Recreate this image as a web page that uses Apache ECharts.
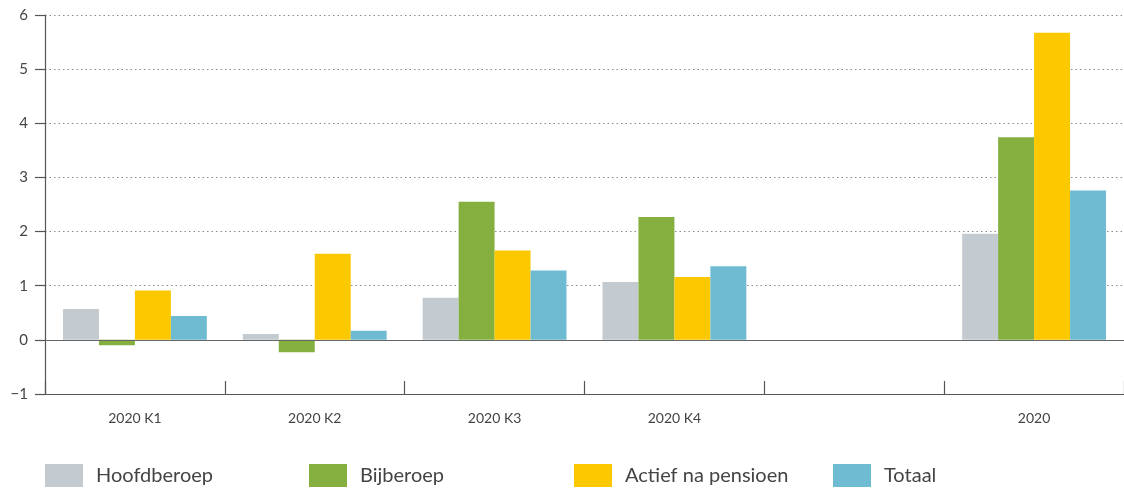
<!DOCTYPE html>
<html>
<head>
<meta charset="utf-8">
<script src="https://cdn.jsdelivr.net/npm/echarts@6/dist/echarts.min.js"></script>
<style>
  html, body { margin: 0; padding: 0; background: #fff; }
  #chart { width: 1124px; height: 489px; }
</style>
</head>
<body>
<div id="chart"></div>
<script>
const categories = ['2020 K1', '2020 K2', '2020 K3', '2020 K4', '', '2020'];
const hoofdberoep = [0.57, 0.11, 0.78, 1.07, null, 1.96];
const bijberoep = [-0.10, -0.23, 2.55, 2.27, null, 3.74];
const actiefNaPensioen = [0.91, 1.59, 1.65, 1.16, null, 5.67];
const totaal = [0.44, 0.17, 1.28, 1.36, null, 2.76];

const seriesNames = ['Hoofdberoep', 'Bijberoep', 'Actief na pensioen', 'Totaal'];
const seriesData = [hoofdberoep, bijberoep, actiefNaPensioen, totaal];
const colors = ['#c3cbd1', '#85b040', '#fcc800', '#6fbcd2'];
const legendLeft = [45, 309, 574, 833];

const chart = echarts.init(document.getElementById('chart'));

const option = {
  animation: false,
  color: colors,
  textStyle: { fontFamily: 'Lato, "Open Sans", sans-serif' },
  grid: { left: 45, width: 1083, top: 15, bottom: 95 },
  legend: seriesNames.map((name, i) => ({
    data: [name],
    left: legendLeft[i],
    top: 464,
    padding: 0,
    icon: 'rect',
    itemWidth: 38,
    itemHeight: 23,
    itemGap: 0,
    textStyle: { fontSize: 20, color: '#444', padding: [0, 0, 0, 8] },
  })),
  xAxis: {
    type: 'category',
    data: categories,
    axisLine: { onZero: false, lineStyle: { color: '#555', width: 1.2 } },
    axisTick: { show: true, inside: true, length: 13, interval: 0, lineStyle: { color: '#555', width: 1.2 } },
    axisLabel: { color: '#444', fontSize: 14, margin: 17, interval: 0 },
    splitLine: { show: false },
  },
  yAxis: {
    type: 'value',
    min: -1,
    max: 6,
    interval: 1,
    axisLine: { show: true, lineStyle: { color: '#555', width: 1.2 } },
    axisTick: { show: true, length: 10, lineStyle: { color: '#555', width: 1.2 } },
    axisLabel: {
      color: '#444',
      fontSize: 15,
      margin: 17,
      formatter: (v) => String(v).replace('-', '\u2212'),
    },
    splitLine: {
      show: true,
      lineStyle: { color: '#8c8c8c', type: [1.5, 3], width: 1.2 },
      showMinLine: false,
    },
  },
  series: seriesNames.map((name, i) => ({
    name: name,
    type: 'bar',
    data: seriesData[i],
    barGap: '0%',
    barCategoryGap: '20%',
    itemStyle: { color: colors[i] },
    markLine: i === 0 ? {
      silent: true,
      symbol: 'none',
      label: { show: false },
      lineStyle: { color: '#666', type: 'solid', width: 1.2 },
      data: [{ yAxis: 0 }],
    } : undefined,
  })),
};

chart.setOption(option);
window.addEventListener('resize', () => chart.resize());
</script>
</body>
</html>
